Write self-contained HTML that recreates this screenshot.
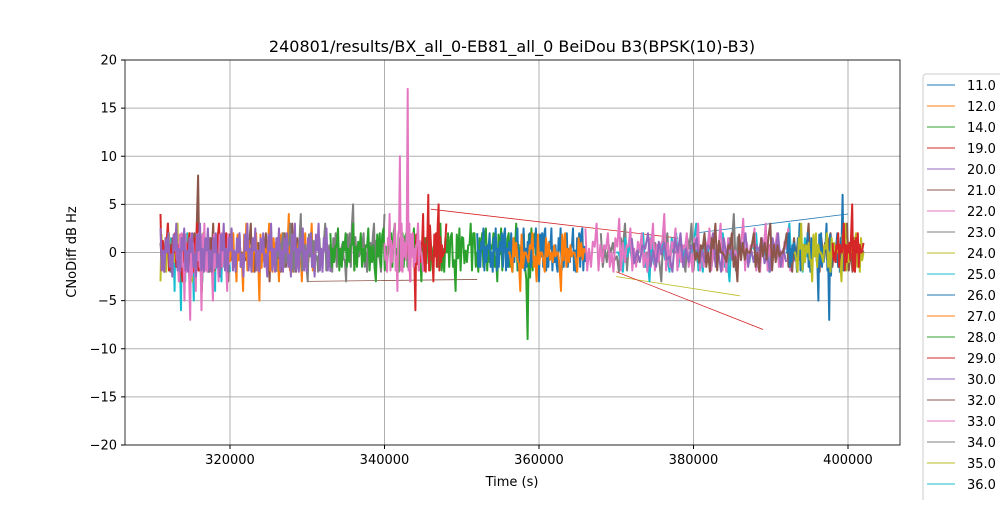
<!DOCTYPE html>
<html><head><meta charset="utf-8">
<style>
body{margin:0;background:#fff;font-family:"Liberation Sans","DejaVu Sans",sans-serif;}
svg text{font-family:"DejaVu Sans","Liberation Sans",sans-serif;}
</style></head>
<body>
<svg id="chart" width="1000" height="500" viewBox="0 0 1000 500">
<rect x="0" y="0" width="1000" height="500" fill="#fff"/>
<text x="512" y="52" font-size="16" text-anchor="middle" fill="#000">240801/results/BX_all_0-EB81_all_0 BeiDou B3(BPSK(10)-B3)</text>
<g id="grid"></g>
<clipPath id="clip"><rect x="125" y="60" width="775" height="385"/></clipPath>
<g id="series" clip-path="url(#clip)"></g>
<rect x="125" y="60" width="775" height="385" fill="none" stroke="#000" stroke-width="0.8"/>
<g id="axes"></g>
<text x="512" y="486" font-size="13" text-anchor="middle">Time (s)</text>
<text transform="translate(76,252) rotate(-90)" font-size="13" text-anchor="middle">CNoDiff dB Hz</text>
<g id="legend"></g>
</svg>
<script>
const xTicks=[320000,340000,360000,380000,400000];
const yTicks=[-20,-15,-10,-5,0,5,10,15,20];
const legendLabels=["11.0","12.0","14.0","19.0","20.0","21.0","22.0","23.0","24.0","25.0","26.0","27.0","28.0","29.0","30.0","32.0","33.0","34.0","35.0","36.0","37.0"];
const colors=["#1f77b4","#ff7f0e","#2ca02c","#d62728","#9467bd","#8c564b","#e377c2","#7f7f7f","#bcbd22","#17becf"];
// straight connecting lines (gaps in tracks)
const linkColor=[3,8,5,0,3];
const linkT0=[346000,370000,330000,380000,370000];
const linkT1=[378000,386000,352000,400000,389000];
const linkV0=[4.5,-2.5,-3,2,-2];
const linkV1=[1.5,-4.5,-2.8,4,-8];
// noisy track segments: [colorIndex, tStart, tEnd]
const segColor=[9,8,5,3,6,1,7,4,2,3,0,1,6,7,9,6,4,5,0,8,3];
const segStart=[312000,311000,311000,311000,313000,320000,326000,311000,333000,343000,352000,356000,340000,368000,370000,366000,372000,380000,392000,393000,398000];
const segEnd=[320000,318000,330000,320000,320000,331000,340000,333000,360000,348000,366000,366000,345000,386000,395000,393000,392000,402000,400000,402000,402000];
const segValues=[
[0,-2,1,-4,2,-1,-6,1,-3,2,-2,0,-5,1,-1,2,-3,0,1,-2,-1,2,-4,0,1,-3,2,-1,0,-2],
[-3,1,-2,2,0,-1,3,-2,1,-1,2,-3,0,1,-2,2,-1,0,1,-2],
[1,-2,3,-1,2,-3,1,0,-2,2,8,-4,1,-2,3,-1,0,2,-3,1,-1,2,-2,0,3,-2,1,-1,2,-3,0,1,-2,2,-1,3,-2,0,1,-1],
[4,-1,3,-2,2,0,-3,1,2,-2,3,-1,0,2,-2,1,3,-1,2,0],
[1,-3,2,-5,0,-7,1,-4,2,-6,3,-2,0,-5,1,-3,2,0,-4,1],
[-1,2,-3,1,-4,3,0,-2,2,-5,1,0,3,-2,1,-3,2,-1,4,-2,0,1,-3,2,-1,3,-2],
[-2,1,2,-1,3,-2,0,4,-1,-3,2,1,-2,0,3,-1,-2,2,0,1,-3,2,5,-1,0,2,-2,1,3,0,-2,4],
[2.5,-2,2,-2.5,3,-2,2.5,-2,2,-2.5,3,-2,2.5,-2,2,-2.5,3,-2,2.5,-2,2,-2.5,3,-2,2.5,-2,2,-2.5,3,-2,2.5,-2,2,-2.5,3,-2,2.5,-2,2,-2.5,3,-2,2.5,-2],
[2,-1,2.5,-1.5,2,-1,3,-1.5,2,-1,2.5,-1,-3,2,2.5,-1,2,3,-2,2,2,-1,2.5,2,-3,1.5,2.5,-1,2,3,-2,2,2,-4,2.5,1.5,-1,3,2,-2,2,2.5,-1,2,-3,2.5,1.5,2,-2,3,-1,2,-9,2.5,2,-1],
[1,-3,2,-6,3,-1,4,-2,6,1,-3,2,5,-1,0,3],
[2,-1.5,2.5,-1,2,-2,2.5,-1.5,2,2.5,-1.5,2,-1,2.5,-2,2.5,-1.5,2,-1,2.5,-3,2,2.5,-1.5,2.5,-1,-2,2.5,-1.5,2,-1,2.5,-2,2,2.5,-1],
[0,-2,1,-4,0,-1,2,-3,0,-2,1,-1,0,-4,2,-1,0,-2,1,0],
[1,-2,4,-1,3,-4,10,-2,1,17,-3,2,-1,3,0,-2],
[2,-1,1,-2,3,0,-1,2,-2,1,-3,2,0,1,-2,3,-1,0,2,-1,1,-2,4,0],
[0,-2,1,-1,2,-3,0,1,-2,2,-1,0,3,-2,1,-1,2,-3,0,1,-1,2,0,-2,1,-1,3,0,-2,1],
[2.5,-1.5,3,-1,2,-2,3.5,-1,2.5,-1.5,2,-2,3,-1,4,-1.5,2.5,-1,2,-2,3,-1.5,2.5,-1,3,-2,2,-1.5,3.5,-1,2.5,-2,3,-1,2,-1.5,2.5,-1],
[1.5,-1,2,-1.5,1,-2,2,-1,1.5,-1,2,-2,1,-1.5,2,-1,1.5,-2,2,-1],
[1,-1,2,-2,3,0,-1,2,-3,1,0,2,-2,1,3,-1,0,2,-2,1,-1,3,0,-2,1,2,-1,0,3,-2,1,0],
[0,2,-1,1,-2,3,0,-1,2,-2,0,1,-5,2,-1,3,-7,1,0,2,-2,6,1,-1],
[0,-2,3,-1,1,-3,2,0,-1,2,-2,1,0,-3,3,-1,1,2,-2,0],
[1,-1,2,0,3,-1,1,5,-2,2,0,1]
];
const X0=306408,X1=406731;
function sx(t){return 125+(t-X0)/(X1-X0)*775;}
function sy(v){return 445-(v+20)/40*385;}
const NS="http://www.w3.org/2000/svg";
function mk(tag,attrs,parent){const e=document.createElementNS(NS,tag);for(const k in attrs)e.setAttribute(k,attrs[k]);parent.appendChild(e);return e;}
const grid=document.getElementById('grid'),axes=document.getElementById('axes');
xTicks.forEach(t=>{
  const gl=mk('line',{x1:sx(t),x2:sx(t),y1:60,y2:445,stroke:'#b0b0b0','stroke-width':1},grid);
  
  
  mk('line',{x1:sx(t),x2:sx(t),y1:445,y2:449,stroke:'#000'},axes);
  const tx=mk('text',{x:sx(t),y:464,'font-size':13,'text-anchor':'middle'},axes);
  tx.textContent=t;
  
  
});
yTicks.forEach(v=>{
  const gl=mk('line',{x1:125,x2:900,y1:sy(v),y2:sy(v),stroke:'#b0b0b0','stroke-width':1},grid);
  
  
  mk('line',{x1:121,x2:125,y1:sy(v),y2:sy(v),stroke:'#000'},axes);
  const tx=mk('text',{x:117,y:sy(v)+4.5,'font-size':13,'text-anchor':'end'},axes);
  tx.textContent=(v<0?'\u2212'+(-v):v);
  
  
});
const sg=document.getElementById('series');
linkColor.forEach((c,i)=>{
  const ln=mk('line',{x1:sx(linkT0[i]),y1:sy(linkV0[i]),x2:sx(linkT1[i]),y2:sy(linkV1[i]),stroke:colors[c],'stroke-width':0.8},sg);
  
  
});
function mirror(v){const a=Math.min(Math.abs(v),2.5)*0.75;return v>=0?-a:a;}
segValues.forEach((vals,i)=>{
  const n=vals.length;
  const dt=(segEnd[i]-segStart[i])/(n-1);
  const pts=[];
  vals.forEach((v,j)=>{
    const t=segStart[i]+dt*j;
    pts.push(sx(t).toFixed(1)+','+sy(v).toFixed(1));
    if(j<n-1){
      pts.push(sx(t+dt*0.33).toFixed(1)+','+sy(mirror(v)).toFixed(1));
      pts.push(sx(t+dt*0.66).toFixed(1)+','+sy(Math.max(-3,Math.min(3,(v+vals[j+1])*0.4))).toFixed(1));
    }
  });
  const pl=mk('polyline',{points:pts.join(' '),fill:'none',stroke:colors[segColor[i]],'stroke-width':2,'stroke-linejoin':'round'},sg);
  
  
});
const lg=document.getElementById('legend');
const box=mk('rect',{x:923,y:74,width:90,height:440,fill:'#fff',stroke:'#ccc',rx:3},lg);


legendLabels.forEach((l,i)=>{
  const y=85+i*21;
  const ln=mk('line',{x1:927,x2:955,y1:y,y2:y,stroke:colors[i%10],'stroke-width':1},lg);
  
  
  const tx=mk('text',{x:967,y:y+5,'font-size':13},lg);
  tx.textContent=l;
  
  
});
</script>
</body></html>
